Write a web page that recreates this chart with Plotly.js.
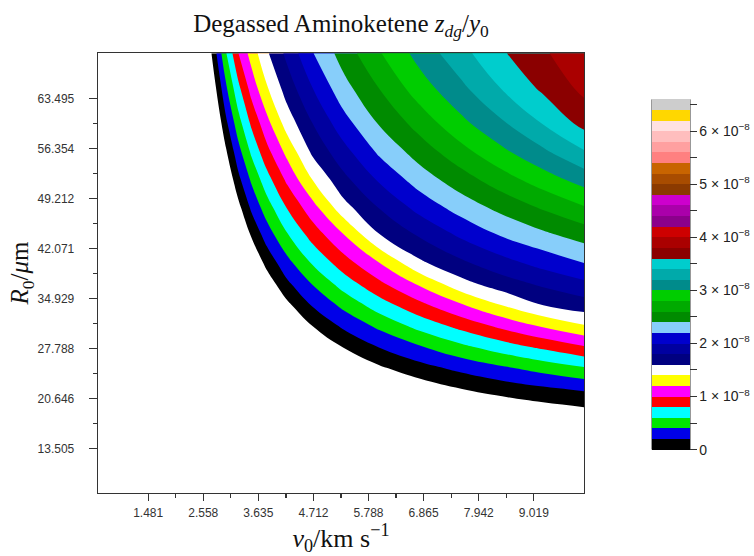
<!DOCTYPE html>
<html>
<head>
<meta charset="utf-8">
<script src="https://cdn.plot.ly/plotly-3.0.1.min.js"></script>
<style>
  html, body { margin: 0; padding: 0; background: #ffffff; }
  #chart { width: 754px; height: 556px; }
</style>
</head>
<body>
<div id="chart"></div>
<script>
// Initial speed v0 (km/s), one grid column each
const v0 = [0.5, 1.8, 2.3, 2.6, 2.8, 3.0, 3.25, 3.5, 3.8, 4.2, 4.7, 5.3, 6.0, 6.8, 7.6, 8.4, 9.2, 10.0];
// Initial radius R0 (um), one grid row each
const R0 = [7.18, 12, 16, 19, 22, 25, 28, 31, 34, 37, 40, 44, 48, 52, 56, 60, 65, 70];

// Degassed fraction z_dg/y0 in units of 1e-8 (rows follow R0, columns follow v0).
// Negative entries lie in the region where nothing has degassed.
const zdg = [
  [-2, -2, -1.549, -2.000, -2.000, -2.000, -2.000, -2.000, -2.000, -1.885, -1.749, -1.607, -1.467, -1.353, -1.250, -1.179, -1.116, -1.067],
  [-2, -2, -1.482, -1.877, -1.962, -1.966, -1.911, -1.819, -1.706, -1.555, -1.395, -1.233, -1.080, -0.953, -0.845, -0.768, -0.701, -0.648],
  [-2, -2, -1.427, -1.764, -1.815, -1.790, -1.704, -1.589, -1.454, -1.281, -1.101, -0.923, -0.758, -0.621, -0.508, -0.426, -0.356, -0.300],
  [-2, -2, -1.386, -1.680, -1.705, -1.657, -1.549, -1.417, -1.264, -1.075, -0.880, -0.691, -0.517, -0.372, -0.256, -0.169, -0.097, -0.039],
  [-2, -2, -1.345, -1.595, -1.594, -1.525, -1.394, -1.244, -1.075, -0.870, -0.660, -0.458, -0.276, -0.123, -0.004, 0.087, 0.161, 0.227],
  [-2, -2, -1.303, -1.511, -1.484, -1.393, -1.239, -1.072, -0.886, -0.664, -0.439, -0.226, -0.035, 0.126, 0.252, 0.365, 0.475, 0.578],
  [-2, -2, -1.262, -1.426, -1.374, -1.260, -1.084, -0.899, -0.697, -0.459, -0.218, 0.007, 0.205, 0.379, 0.549, 0.698, 0.837, 0.976],
  [-2, -2, -1.220, -1.342, -1.264, -1.128, -0.929, -0.727, -0.507, -0.253, 0.002, 0.236, 0.443, 0.666, 0.860, 1.045, 1.222, 1.378],
  [-2, -2, -1.179, -1.258, -1.153, -0.995, -0.774, -0.555, -0.318, -0.048, 0.219, 0.451, 0.702, 0.948, 1.175, 1.402, 1.599, 1.704],
  [-2, -2, -1.138, -1.173, -1.043, -0.863, -0.619, -0.382, -0.129, 0.158, 0.409, 0.684, 0.952, 1.230, 1.524, 1.702, 1.833, 1.951],
  [-2, -2, -1.096, -1.089, -0.933, -0.730, -0.464, -0.210, 0.061, 0.335, 0.621, 0.905, 1.193, 1.562, 1.760, 1.923, 2.069, 2.198],
  [-2, -2, -1.041, -0.976, -0.786, -0.554, -0.257, 0.020, 0.292, 0.582, 0.883, 1.187, 1.591, 1.826, 2.034, 2.216, 2.354, 2.482],
  [-2, -2, -0.986, -0.864, -0.639, -0.377, -0.050, 0.241, 0.509, 0.816, 1.132, 1.530, 1.812, 2.075, 2.290, 2.464, 2.627, 2.787],
  [-2, -2, -0.931, -0.751, -0.492, -0.200, 0.157, 0.435, 0.726, 1.047, 1.413, 1.748, 2.031, 2.302, 2.514, 2.716, 2.906, 3.087],
  [-2, -2, -0.876, -0.639, -0.344, -0.024, 0.341, 0.640, 0.943, 1.266, 1.648, 1.936, 2.240, 2.498, 2.737, 2.962, 3.169, 3.388],
  [-2, -2, -0.821, -0.526, -0.197, 0.153, 0.528, 0.837, 1.136, 1.493, 1.805, 2.122, 2.418, 2.685, 2.949, 3.174, 3.412, 3.665],
  [-2, -2, -0.752, -0.386, -0.014, 0.365, 0.759, 1.079, 1.379, 1.694, 2.002, 2.329, 2.604, 2.910, 3.156, 3.410, 3.639, 3.851],
  [-2, -2, -0.683, -0.245, 0.170, 0.583, 1.007, 1.284, 1.572, 1.855, 2.193, 2.490, 2.784, 3.079, 3.335, 3.578, 3.770, 3.957]
];

// Contour levels (units of 1e-8)
const levelStart = 0;
const levelEnd = 6.6;
const levelStep = 0.2;

// One colour per band between consecutive levels, lowest first
const bandColors = [
  '#000000', '#0000e8', '#00e600', '#00ffff', '#ff0000', '#ff00ff', '#ffff00', '#ffffff',
  '#000080', '#0000a0', '#0000cd', '#87cefa',
  '#008b00', '#00aa00', '#00cd00',
  '#008b8b', '#00aaaa', '#00cdcd',
  '#8b0000', '#aa0000', '#cd0000',
  '#8b008b', '#aa00aa', '#cd00cd',
  '#8b3a00', '#a84c00', '#c86400',
  '#ff8080', '#ffa0a0', '#ffbebe', '#ffe1e1',
  '#ffd700', '#cdcdcd'
];

// Axis ticks
const xTickVals = [1.481, 2.558, 3.635, 4.712, 5.788, 6.865, 7.942, 9.019];
const xTickText = ['1.481', '2.558', '3.635', '4.712', '5.788', '6.865', '7.942', '9.019'];
const yTickVals = [13.505, 20.646, 27.788, 34.929, 42.071, 49.212, 56.354, 63.495];
const yTickText = ['13.505', '20.646', '27.788', '34.929', '42.071', '49.212', '56.354', '63.495'];
const cbTickVals = [0, 1, 2, 3, 4, 5, 6];
const cbTickText = ['0', '1 × 10<sup>−8</sup>', '2 × 10<sup>−8</sup>', '3 × 10<sup>−8</sup>',
  '4 × 10<sup>−8</sup>', '5 × 10<sup>−8</sup>', '6 × 10<sup>−8</sup>'];

const SCALE = 1e-8;

// Plotly samples a filled contour's colour map at the middle of each band;
// the map spans [start - step/2, end + step/2], so sample k sits at k / nLev.
// Slot 0 is the empty region below the first level, the last slot is above the top level.
const nLev = Math.round((levelEnd - levelStart) / levelStep) + 1;
const slotColors = ['#ffffff'].concat(bandColors, ['#ffffff']);
const colorscale = [];
slotColors.forEach((c, k) => {
  const lo = Math.max(0, (k - 0.5) / nLev);
  const hi = Math.min(1, (k + 0.5) / nLev);
  colorscale.push([lo, c]);
  colorscale.push([hi, c]);
});

function midpoints(a) {
  const m = [];
  for (let i = 0; i < a.length - 1; i++) m.push((a[i] + a[i + 1]) / 2);
  return m;
}
const cbMinor = cbTickVals.map(v => v + 0.5);

// Page and colour-bar geometry (pixels)
const W = 754, H = 556;
const M = { l: 98, r: 170, t: 53, b: 63, autoexpand: false };
const plotW = W - M.l - M.r, plotH = H - M.t - M.b;
const cbLeftPx = 652, cbThick = 38;
const cbZeroPx = 449.5, cbPxPerUnit = 53.05;
const cbLenPx = (levelEnd - levelStart + levelStep) * cbPxPerUnit;
const cbBottomPx = cbZeroPx + 0.5 * levelStep * cbPxPerUnit;
const cbTopPx = cbBottomPx - cbLenPx;
const cbEndPx = cbZeroPx - (levelEnd - levelStart) * cbPxPerUnit;
const toPaperX = px => (px - M.l) / plotW;
const toPaperY = py => (H - M.b - py) / plotH;

const serif = 'Liberation Serif, Times New Roman, serif';
const sans = 'Liberation Sans, Arial, sans-serif';

const trace = {
  type: 'contour',
  x: v0,
  y: R0,
  z: zdg.map(r => r.map(v => v * SCALE)),
  autocontour: false,
  contours: {
    start: levelStart * SCALE,
    end: levelEnd * SCALE,
    size: levelStep * SCALE,
    coloring: 'fill',
    showlines: false
  },
  line: { width: 0, smoothing: 1.3 },
  colorscale: colorscale,
  hoverinfo: 'skip',
  colorbar: {
    thickness: cbThick,
    thicknessmode: 'pixels',
    len: cbLenPx,
    lenmode: 'pixels',
    x: toPaperX(cbLeftPx),
    xanchor: 'left',
    y: toPaperY((cbTopPx + cbBottomPx) / 2),
    yanchor: 'middle',
    xpad: 0,
    ypad: 0,
    outlinewidth: 0,
    tickmode: 'array',
    tickvals: cbTickVals.map(v => v * SCALE).concat(cbMinor.map(v => v * SCALE)),
    ticktext: cbTickText.concat(cbMinor.map(() => '')),
    ticks: 'outside',
    ticklen: 7,
    tickwidth: 1,
    tickcolor: '#333333',
    tickfont: { family: sans, size: 14, color: '#222222' }
  }
};

const axisCommon = {
  showline: true,
  linecolor: '#333333',
  linewidth: 1.3,
  mirror: true,
  showgrid: false,
  zeroline: false,
  ticks: 'outside',
  ticklen: 8,
  tickwidth: 1.2,
  tickcolor: '#333333',
  automargin: false,
  tickfont: { family: sans, size: 12, color: '#333333' }
};

const layout = {
  width: W,
  height: H,
  margin: M,
  paper_bgcolor: '#ffffff',
  plot_bgcolor: '#ffffff',
  showlegend: false,
  title: {
    text: 'Degassed Aminoketene <i>z</i><sub><i>dg</i></sub>/<i>y</i><sub>0</sub>',
    font: { family: serif, size: 25, color: '#111111' },
    x: 0.5, xref: 'paper', xanchor: 'center',
    y: 1 - 23 / H, yref: 'container', yanchor: 'middle'
  },
  xaxis: Object.assign({}, axisCommon, {
    range: [0.5, 10.0],
    tickmode: 'array',
    tickvals: xTickVals,
    ticktext: xTickText,
    ticklen: 7,
    ticklabelstandoff: 1,
    minor: { tickvals: midpoints(xTickVals), ticks: 'outside', ticklen: 4, tickcolor: '#333333', tickwidth: 1.2 },
    title: { text: '<i>v</i><sub>0</sub>/km s<sup>−1</sup>', font: { family: serif, size: 26, color: '#111111' }, standoff: 4 }
  }),
  yaxis: Object.assign({}, axisCommon, {
    range: [7.18, 70.02],
    tickmode: 'array',
    tickvals: yTickVals,
    ticktext: yTickText,
    ticklabelstandoff: 12,
    minor: { tickvals: midpoints(yTickVals), ticks: 'outside', ticklen: 4, tickcolor: '#333333', tickwidth: 1.2 },
    title: { text: '<i>R</i><sub>0</sub>/<i>μ</i>m', font: { family: serif, size: 25, color: '#111111' }, standoff: 0 }
  }),
  shapes: [{
    type: 'rect', xref: 'paper', yref: 'paper', layer: 'above',
    x0: toPaperX(cbLeftPx), x1: toPaperX(cbLeftPx + cbThick),
    y0: toPaperY(cbZeroPx), y1: toPaperY(cbEndPx),
    line: { color: '#333333', width: 1 }
  }]
};

Plotly.newPlot('chart', [trace], layout, { displayModeBar: false, staticPlot: true });
</script>
</body>
</html>
